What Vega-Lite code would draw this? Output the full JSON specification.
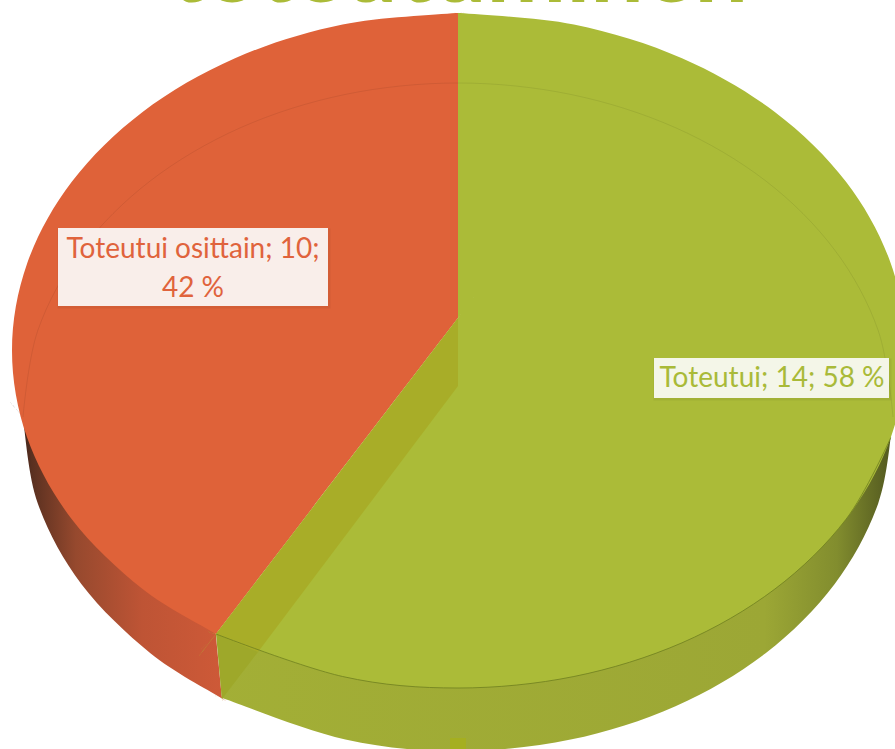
{
"$schema":"https://vega.github.io/schema/vega-lite/v6.json",
"width":895,"height":749,"autosize":"none","padding":0,
"background":"white",
"config":{"view":{"stroke":null}},
"datasets":{
"wallRed":[{"i":0,"x":216,"y":636},{"i":1,"x":221.8,"y":696.5},{"i":2,"x":222,"y":698},{"i":3,"x":220.4,"y":697.4},{"i":4,"x":150.4,"y":653.2},{"i":5,"x":81.3,"y":584},{"i":6,"x":37.8,"y":503.4},{"i":7,"x":23,"y":419},{"i":8,"x":23,"y":417},{"i":9,"x":24.5,"y":418.5},{"i":10,"x":215,"y":633},{"i":11,"x":216,"y":634},{"i":12,"x":216,"y":636}],
"wallGreen":[{"i":0,"x":217,"y":636},{"i":1,"x":221.8,"y":696.5},{"i":2,"x":222,"y":698},{"i":3,"x":223.6,"y":698.6},{"i":4,"x":345.4,"y":739.6},{"i":5,"x":458,"y":751},{"i":6,"x":570.6,"y":739.6},{"i":7,"x":675.5,"y":706.2},{"i":8,"x":765.6,"y":653.2},{"i":9,"x":834.7,"y":584},{"i":10,"x":878.2,"y":503.4},{"i":11,"x":893,"y":419},{"i":12,"x":893,"y":417},{"i":13,"x":891,"y":417},{"i":14,"x":460,"y":400},{"i":15,"x":458,"y":400},{"i":16,"x":456.5,"y":401.5},{"i":17,"x":218,"y":633},{"i":18,"x":217,"y":634},{"i":19,"x":217,"y":636}],
"topRed":[{"i":0,"x":458,"y":15},{"i":1,"x":458,"y":13},{"i":2,"x":456,"y":13.02},{"i":3,"x":342.6,"y":24.5},{"i":4,"x":235,"y":58.2},{"i":5,"x":142.6,"y":111.9},{"i":6,"x":71.8,"y":181.75},{"i":7,"x":27.2,"y":263.2},{"i":8,"x":12,"y":350.5},{"i":9,"x":27.2,"y":437.8},{"i":10,"x":71.8,"y":519.25},{"i":11,"x":142.6,"y":589.1},{"i":12,"x":214.3,"y":633},{"i":13,"x":216,"y":634},{"i":14,"x":217.2,"y":632.4},{"i":15,"x":456.8,"y":319.6},{"i":16,"x":458,"y":318},{"i":17,"x":458,"y":316},{"i":18,"x":458,"y":15}],
"topGreen":[{"i":0,"x":458,"y":15},{"i":1,"x":458,"y":13},{"i":2,"x":460,"y":13.02},{"i":3,"x":573.9,"y":24.5},{"i":4,"x":682,"y":58.2},{"i":5,"x":774.8,"y":111.9},{"i":6,"x":846,"y":181.75},{"i":7,"x":890.7,"y":263.2},{"i":8,"x":906,"y":350.5},{"i":9,"x":890.7,"y":437.8},{"i":10,"x":846,"y":519.25},{"i":11,"x":774.8,"y":589.1},{"i":12,"x":682,"y":642.8},{"i":13,"x":573.9,"y":676.5},{"i":14,"x":458,"y":688},{"i":15,"x":342.6,"y":676.5},{"i":16,"x":218,"y":635},{"i":17,"x":216,"y":634},{"i":18,"x":217.2,"y":632.4},{"i":19,"x":456.8,"y":319.6},{"i":20,"x":458,"y":318},{"i":21,"x":458,"y":316},{"i":22,"x":458,"y":15}],
"strip":[{"i":0,"x":458,"y":318},{"i":1,"x":458,"y":386},{"i":2,"x":258,"y":652},{"i":3,"x":216,"y":634},{"i":4,"x":458,"y":318}],
"stripWall":[{"i":0,"x":216,"y":634},{"i":1,"x":258,"y":652},{"i":2,"x":222,"y":699},{"i":3,"x":216,"y":634}],
"rim":[{"i":0,"x":216,"y":634},{"i":1,"x":342.6,"y":676.5},{"i":2,"x":458,"y":688},{"i":3,"x":573.9,"y":676.5},{"i":4,"x":682,"y":642.8},{"i":5,"x":774.8,"y":589.1},{"i":6,"x":846,"y":519.25},{"i":7,"x":890.7,"y":437.8}],
"innerArc":[{"i":0,"x":23,"y":417},{"i":1,"x":37.8,"y":330.5},{"i":2,"x":81.3,"y":250},{"i":3,"x":150.4,"y":180.8},{"i":4,"x":240.5,"y":127.7},{"i":5,"x":345.4,"y":94.4},{"i":6,"x":458,"y":83},{"i":7,"x":570.6,"y":94.4},{"i":8,"x":675.5,"y":127.7},{"i":9,"x":765.6,"y":180.8},{"i":10,"x":834.7,"y":250},{"i":11,"x":878.2,"y":330.5},{"i":12,"x":893,"y":417}],
"boxes":[{"slice":"Toteutui osittain","x":58,"x2":328,"y":228,"y2":306},{"slice":"Toteutui","x":654,"x2":889,"y":358,"y2":398}],
"labels":[{"slice":"Toteutui osittain","count":10,"share":42,"line":"Toteutui osittain; 10;","x":193,"y":250},{"slice":"Toteutui osittain","count":10,"share":42,"line":"42 %","x":193,"y":289},{"slice":"Toteutui","count":14,"share":58,"line":"Toteutui; 14; 58 %","x":772,"y":379}],
"legendKey":[{"x":450,"x2":466,"y":738,"y2":749}],
"heading":[{"text":"toteutuminen","x":459,"y":2}]
},
"layer":[
{"data":{"name":"wallRed"},"mark":{"type":"line","interpolate":"cardinal","strokeWidth":0,"fill":{"gradient":"linear","x1":0,"x2":1,"y1":0,"y2":0,"stops":[{"offset":0,"color":"#1f1410"},{"offset":0.1,"color":"#5a3020"},{"offset":0.3,"color":"#96492e"},{"offset":0.6,"color":"#BE5435"},{"offset":1,"color":"#CF5A38"}]}},
"encoding":{"x":{"field":"x","type":"quantitative","axis":null,"scale":{"domain":[0,895],"range":[0,895],"nice":false,"zero":false}},"y":{"field":"y","type":"quantitative","axis":null,"scale":{"domain":[0,749],"range":[0,749],"nice":false,"zero":false}},"order":{"field":"i"}}},
{"data":{"name":"wallGreen"},"mark":{"type":"line","interpolate":"cardinal","strokeWidth":0,"fill":{"gradient":"linear","x1":0,"x2":1,"y1":0,"y2":0,"stops":[{"offset":0,"color":"#A3AF36"},{"offset":0.78,"color":"#9CA735"},{"offset":0.88,"color":"#828D2E"},{"offset":0.96,"color":"#50561F"},{"offset":1,"color":"#2A2C12"}]}},
"encoding":{"x":{"field":"x","type":"quantitative","axis":null,"scale":{"domain":[0,895],"range":[0,895],"nice":false,"zero":false}},"y":{"field":"y","type":"quantitative","axis":null,"scale":{"domain":[0,749],"range":[0,749],"nice":false,"zero":false}},"order":{"field":"i"}}},
{"data":{"name":"topRed"},"mark":{"type":"line","interpolate":"cardinal","strokeWidth":0,"fill":"#DF6239"},
"encoding":{"x":{"field":"x","type":"quantitative","axis":null,"scale":{"domain":[0,895],"range":[0,895],"nice":false,"zero":false}},"y":{"field":"y","type":"quantitative","axis":null,"scale":{"domain":[0,749],"range":[0,749],"nice":false,"zero":false}},"order":{"field":"i"}}},
{"data":{"name":"topGreen"},"mark":{"type":"line","interpolate":"cardinal","strokeWidth":0,"fill":"#ABBB38"},
"encoding":{"x":{"field":"x","type":"quantitative","axis":null,"scale":{"domain":[0,895],"range":[0,895],"nice":false,"zero":false}},"y":{"field":"y","type":"quantitative","axis":null,"scale":{"domain":[0,749],"range":[0,749],"nice":false,"zero":false}},"order":{"field":"i"}}},
{"data":{"name":"strip"},"mark":{"type":"line","interpolate":"linear","strokeWidth":0,"fill":"#A8AD28"},
"encoding":{"x":{"field":"x","type":"quantitative","axis":null,"scale":{"domain":[0,895],"range":[0,895],"nice":false,"zero":false}},"y":{"field":"y","type":"quantitative","axis":null,"scale":{"domain":[0,749],"range":[0,749],"nice":false,"zero":false}},"order":{"field":"i"}}},
{"data":{"name":"stripWall"},"mark":{"type":"line","interpolate":"linear","strokeWidth":0,"fill":"#9EA82A"},
"encoding":{"x":{"field":"x","type":"quantitative","axis":null,"scale":{"domain":[0,895],"range":[0,895],"nice":false,"zero":false}},"y":{"field":"y","type":"quantitative","axis":null,"scale":{"domain":[0,749],"range":[0,749],"nice":false,"zero":false}},"order":{"field":"i"}}},
{"data":{"name":"innerArc"},"mark":{"type":"line","interpolate":"cardinal","strokeWidth":1,"stroke":"#000000","opacity":0.07},
"encoding":{"x":{"field":"x","type":"quantitative","axis":null,"scale":{"domain":[0,895],"range":[0,895],"nice":false,"zero":false}},"y":{"field":"y","type":"quantitative","axis":null,"scale":{"domain":[0,749],"range":[0,749],"nice":false,"zero":false}},"order":{"field":"i"}}},
{"data":{"name":"rim"},"mark":{"type":"line","interpolate":"cardinal","strokeWidth":1,"stroke":"#6F7F1F","opacity":0.8},
"encoding":{"x":{"field":"x","type":"quantitative","axis":null,"scale":{"domain":[0,895],"range":[0,895],"nice":false,"zero":false}},"y":{"field":"y","type":"quantitative","axis":null,"scale":{"domain":[0,749],"range":[0,749],"nice":false,"zero":false}},"order":{"field":"i"}}},
{"data":{"name":"legendKey"},"mark":{"type":"rect","fill":"#A5AF20"},
"encoding":{"x":{"field":"x","type":"quantitative","axis":null,"scale":{"domain":[0,895],"range":[0,895],"nice":false,"zero":false}},"x2":{"field":"x2"},"y":{"field":"y","type":"quantitative","axis":null,"scale":{"domain":[0,749],"range":[0,749],"nice":false,"zero":false}},"y2":{"field":"y2"}}},
{"data":{"name":"boxes"},"mark":{"type":"rect","fill":"#000000","fillOpacity":0.06,"xOffset":2,"yOffset":3,"stroke":"#000000","strokeWidth":5,"strokeOpacity":0.05},
"encoding":{"x":{"field":"x","type":"quantitative","axis":null,"scale":{"domain":[0,895],"range":[0,895],"nice":false,"zero":false}},"x2":{"field":"x2"},"y":{"field":"y","type":"quantitative","axis":null,"scale":{"domain":[0,749],"range":[0,749],"nice":false,"zero":false}},"y2":{"field":"y2"}}},
{"data":{"name":"boxes"},"mark":{"type":"rect"},
"encoding":{"x":{"field":"x","type":"quantitative","axis":null,"scale":{"domain":[0,895],"range":[0,895],"nice":false,"zero":false}},"x2":{"field":"x2"},"y":{"field":"y","type":"quantitative","axis":null,"scale":{"domain":[0,749],"range":[0,749],"nice":false,"zero":false}},"y2":{"field":"y2"},"fill":{"field":"slice","type":"nominal","legend":null,"scale":{"domain":["Toteutui osittain","Toteutui"],"range":["#F9EEEA","#F4F6E8"]}}}},
{"data":{"name":"labels"},"mark":{"type":"text","font":"Lato","fontSize":28,"align":"center","baseline":"middle"},
"encoding":{"x":{"field":"x","type":"quantitative","axis":null,"scale":{"domain":[0,895],"range":[0,895],"nice":false,"zero":false}},"y":{"field":"y","type":"quantitative","axis":null,"scale":{"domain":[0,749],"range":[0,749],"nice":false,"zero":false}},"text":{"field":"line"},"color":{"field":"slice","type":"nominal","legend":null,"scale":{"domain":["Toteutui osittain","Toteutui"],"range":["#E0633C","#A9BA38"]}}}},
{"data":{"name":"heading"},"mark":{"type":"text","font":"Lato","fontWeight":"bold","fontSize":95,"align":"center","baseline":"alphabetic","color":"#ABBB38"},
"encoding":{"x":{"field":"x","type":"quantitative","axis":null,"scale":{"domain":[0,895],"range":[0,895],"nice":false,"zero":false}},"y":{"field":"y","type":"quantitative","axis":null,"scale":{"domain":[0,749],"range":[0,749],"nice":false,"zero":false}},"text":{"field":"text"}}}
]
}
